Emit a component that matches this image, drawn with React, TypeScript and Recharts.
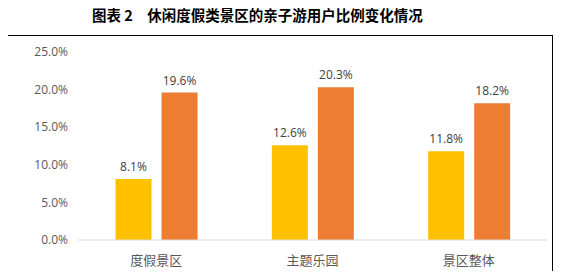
import { BarChart, Bar, XAxis, YAxis, LabelList } from "recharts";

const categories = ["度假景区", "主题乐园", "景区整体"];
const before = [8.1, 12.6, 11.8];
const after = [19.6, 20.3, 18.2];
const yTicks = [0, 5, 10, 15, 20, 25];

const data = categories.map((name, i) => ({ name, before: before[i], after: after[i] }));

const pct = (v: number) => `${Number(v).toFixed(1)}%`;

export default function App() {
  return (
    <div style={{ position: "relative", width: 563, height: 279, margin: "-8px", background: "#fff" }}>
      <div
        style={{
          position: "absolute",
          left: 92,
          top: 5,
          fontFamily: "'Noto Sans CJK SC', serif",
          fontWeight: 700,
          fontSize: 14.5,
          lineHeight: "20px",
          color: "#000",
          whiteSpace: "pre",
        }}
      >
        {"图表 2　休闲度假类景区的亲子游用户比例变化情况"}
      </div>
      <div
        style={{
          position: "absolute",
          left: 4,
          top: 35,
          width: 549,
          height: 238,
          border: "1px solid #000",
          boxSizing: "border-box",
        }}
      >
        <BarChart
          width={547}
          height={236}
          data={data}
          margin={{ top: 16, right: 5, left: 2, bottom: 0 }}
          barCategoryGap="24%"
          barGap={10}
        >
          <XAxis
            dataKey="name"
            height={32}
            axisLine={{ stroke: "#d9d9d9" }}
            tickLine={false}
            tick={{ fontSize: 13, fill: "#595959", fontFamily: "'Noto Sans CJK SC'" }}
            tickMargin={10}
          />
          <YAxis
            width={71}
            domain={[0, 25]}
            ticks={yTicks}
            tickFormatter={pct}
            axisLine={false}
            tickLine={false}
            tick={{ fontSize: 12, fill: "#595959", fontFamily: "'Open Sans', sans-serif" }}
            tickMargin={4}
          />
          <Bar dataKey="before" fill="#ffc000" isAnimationActive={false}>
            <LabelList
              dataKey="before"
              position="top"
              offset={8}
              formatter={(v: any) => pct(v)}
              style={{ fontSize: 12, fill: "#404040", fontFamily: "'Open Sans', sans-serif" }}
            />
          </Bar>
          <Bar dataKey="after" fill="#ed7d31" isAnimationActive={false}>
            <LabelList
              dataKey="after"
              position="top"
              offset={8}
              formatter={(v: any) => pct(v)}
              style={{ fontSize: 12, fill: "#404040", fontFamily: "'Open Sans', sans-serif" }}
            />
          </Bar>
        </BarChart>
      </div>
    </div>
  );
}
